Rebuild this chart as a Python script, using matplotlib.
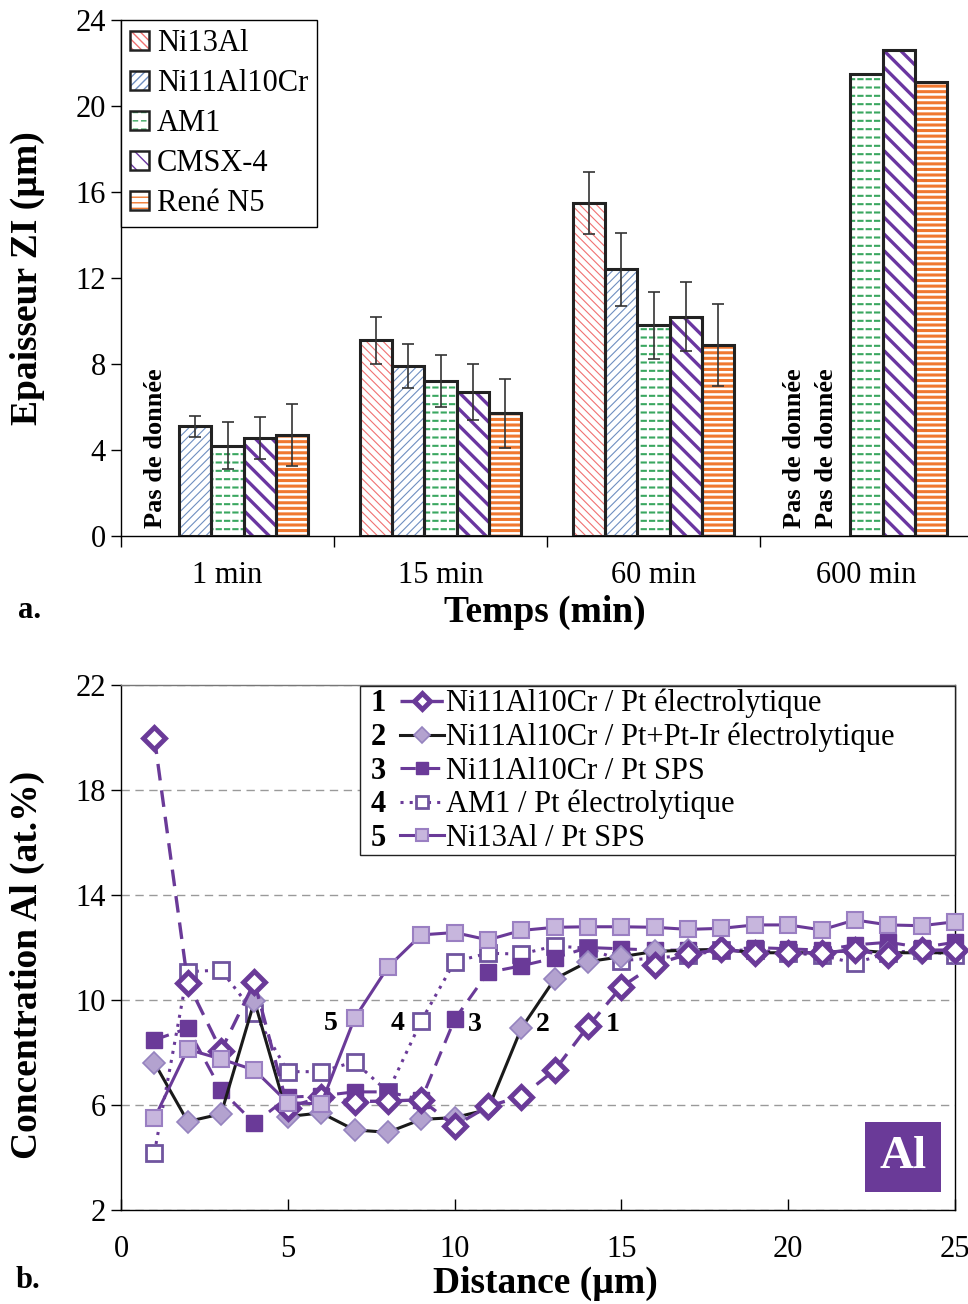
import numpy as np
import matplotlib
matplotlib.use("Agg")
import matplotlib.pyplot as plt
import matplotlib.hatch as mhatch
import matplotlib.patches as mpatches
from matplotlib.path import Path
from matplotlib.legend_handler import HandlerTuple


# ---- data: (a) thickness of interdiffusion zone ----
times = ["1 min", "15 min", "60 min", "600 min"]
alloys = ["Ni13Al", "Ni11Al10Cr", "AM1", "CMSX-4", "René N5"]
ni13al = [np.nan, 9.1, 15.5, np.nan]
ni11al10cr = [5.1, 7.9, 12.4, np.nan]
am1 = [4.2, 7.2, 9.8, 21.5]
cmsx4 = [4.55, 6.7, 10.2, 22.6]
rene_n5 = [4.7, 5.7, 8.9, 21.1]
err_ni13al = [np.nan, 1.1, 1.45, np.nan]
err_ni11al10cr = [0.48, 1.03, 1.7, np.nan]
err_am1 = [1.1, 1.2, 1.55, np.nan]
err_cmsx4 = [0.97, 1.3, 1.6, np.nan]
err_rene_n5 = [1.45, 1.6, 1.9, np.nan]
no_data = [(0, 0), (3, 0), (3, 1)]  # (time index, alloy index)

# ---- data: (b) Al concentration profiles ----
distance = np.arange(1, 26)
al_s1 = [20.0, 10.66, 8.07, 10.68, 5.9, 6.3, 6.13, 6.15, 6.2, 5.2, 5.95, 6.32, 7.33,
         9.0, 10.5, 11.35, 11.75, 11.93, 11.8, 11.8, 11.8, 11.9, 11.7, 11.9, 11.9]
al_s2 = [7.61, 5.37, 5.66, 9.96, 5.56, 5.7, 5.05, 4.96, 5.45, 5.52, 5.83, 8.92, 10.8,
         11.46, 11.65, 11.85, 11.9, 11.93, 11.8, 11.8, 11.8, 11.9, 11.8, 11.8, 11.8]
al_s3 = [8.48, 8.92, 6.57, 5.30, 6.3, 6.35, 6.5, 6.5, 6.2, 9.26, 11.05, 11.3, 11.6,
         12.0, 11.95, 11.9, 11.9, 11.9, 12.0, 11.95, 11.9, 12.1, 12.2, 12.0, 12.2]
al_s4 = [4.17, 11.08, 11.14, 9.49, 7.27, 7.27, 7.65, 6.5, 9.2, 11.46, 11.78, 11.75, 12.06,
         11.97, 11.5, 11.6, 11.7, 11.9, 11.9, 11.8, 11.7, 11.4, 11.8, 11.9, 11.7]
al_s5 = [5.49, 8.12, 7.75, 7.33, 6.09, 6.04, 9.3, 11.25, 12.48, 12.57, 12.29, 12.65, 12.77,
         12.79, 12.79, 12.77, 12.69, 12.73, 12.86, 12.86, 12.67, 13.05, 12.86, 12.83, 12.98]
series_labels = ["Ni11Al10Cr / Pt électrolytique",
                 "Ni11Al10Cr / Pt+Pt-Ir électrolytique",
                 "Ni11Al10Cr / Pt SPS",
                 "AM1 / Pt électrolytique",
                 "Ni13Al / Pt SPS"]
curve_tags = [("5", 6.3, 9.1), ("4", 8.3, 9.1), ("3", 10.6, 9.05),
              ("2", 12.65, 9.05), ("1", 14.75, 9.05)]


# '.' hatch reused as rows of short dashes (AM1 pattern)
class DashRows(mhatch.HatchPatternBase):
    def __init__(self, hatch, density):
        self.n = hatch.count(".") * density
        self.num_vertices = self.n * self.n * 2

    def set_vertices_and_codes(self, vertices, codes):
        step = 1.0 / self.n
        X, Y = np.meshgrid(np.arange(self.n) * step, np.arange(self.n) * step + step / 2)
        x0, y0 = X.ravel(), Y.ravel()
        vertices[0::2, 0] = x0
        vertices[0::2, 1] = y0
        vertices[1::2, 0] = x0 + 0.5 * step
        vertices[1::2, 1] = y0
        codes[0::2] = Path.MOVETO
        codes[1::2] = Path.LINETO


mhatch._hatch_types = [t for t in mhatch._hatch_types
                       if t is not mhatch.SmallFilledCircles] + [DashRows]

plt.rcParams["font.family"] = ["Liberation Serif", "DejaVu Serif"]

PURPLE = "#6a3a98"
LIGHT = "#b3a2cf"

styles = [
    # color, hatch, hatch lw
    ("#f07272", "\\\\\\\\", 0.8),
    ("#6f8fc0", "////", 0.8),
    ("#3aa760", "..", 1.5),
    ("#6a35a0", "\\\\", 2.4),
    ("#f07830", "---", 2.2),
]

fig = plt.figure(figsize=(9.68, 13.04), dpi=100)
W, H = 968, 1304

# ================= (a) =================
ax1 = fig.add_axes([121 / W, 1 - 536 / H, (973 - 121) / W, (536 - 20) / H])
values = [ni13al, ni11al10cr, am1, cmsx4, rene_n5]
errors = [err_ni13al, err_ni11al10cr, err_am1, err_cmsx4, err_rene_n5]
bw = 0.152
x = np.arange(len(times))
handles = []
for i, (vals, errs, (col, hat, hlw)) in enumerate(zip(values, errors, styles)):
    vals = np.array(vals)
    errs = np.array(errs)
    pos = x + (i - 2) * bw
    ok = ~np.isnan(vals)
    bars = ax1.bar(pos[ok], vals[ok], bw, color="white", edgecolor=col,
                   hatch=hat, linewidth=0, zorder=2)
    for b in bars:
        if hasattr(b, "set_hatch_linewidth"):
            b.set_hatch_linewidth(hlw)
    ax1.bar(pos[ok], vals[ok], bw, fill=False, edgecolor="#222222",
            linewidth=2.2, zorder=3)
    ek = ~np.isnan(errs)
    ax1.errorbar(pos[ek], vals[ek], yerr=errs[ek], fmt="none", ecolor="#333333",
                 elinewidth=1.2, capsize=4, capthick=1.2, zorder=4)
    hp = mpatches.Patch(facecolor="white", edgecolor=col, hatch=hat, linewidth=0)
    if hasattr(hp, "set_hatch_linewidth"):
        hp.set_hatch_linewidth(hlw)
    ep = mpatches.Patch(fill=False, edgecolor="#222222", linewidth=1.8)
    handles.append((hp, ep))

for t, a in no_data:
    ax1.text(x[t] + (a - 2) * bw - 0.035, 0.35, "Pas de donnée", rotation=90,
             ha="center", va="bottom", fontsize=19, fontweight="bold", zorder=5)

ax1.set_xlim(-0.5, 3.5)
ax1.set_ylim(0, 24)
ax1.set_yticks(range(0, 25, 4))
ax1.set_xticks(x)
ax1.set_xticklabels(times)
ax1.set_xticks(np.arange(-0.5, 4, 1), minor=True)
ax1.tick_params(axis="x", which="major", length=0, pad=18, labelsize=22)
ax1.tick_params(axis="x", which="minor", length=8, width=1, direction="out")
ax1.tick_params(axis="y", length=7, width=1, direction="out", labelsize=22, pad=4)
for s in ["top", "right"]:
    ax1.spines[s].set_visible(False)
for s in ["left", "bottom"]:
    ax1.spines[s].set_linewidth(1)

leg1 = ax1.legend(handles, alloys, handler_map={tuple: HandlerTuple(ndivide=1)},
                  loc="upper left", bbox_to_anchor=(0, 1), borderaxespad=0,
                  fontsize=22, handlelength=0.62, handleheight=0.62,
                  handletextpad=0.25, labelspacing=0.36, borderpad=0.3,
                  fancybox=False, edgecolor="black", framealpha=1)
leg1.get_frame().set_linewidth(1)

fig.text(27 / W, 1 - 278 / H, "Epaisseur ZI (µm)", rotation=90, ha="center",
         va="center", fontsize=27, fontweight="bold")
fig.text(545 / W, 1 - 612 / H, "Temps (min)", ha="center", va="center",
         fontsize=27, fontweight="bold")
fig.text(30 / W, 1 - 610 / H, "a.", ha="center", va="center", fontsize=22,
         fontweight="bold")

# ================= (b) =================
ax2 = fig.add_axes([121 / W, 1 - 1210 / H, (955 - 121) / W, (1210 - 685) / H])
ax2.plot(distance, al_s1, color=PURPLE, lw=2.4, ls=(0, (5, 3)), marker="D", ms=11,
         mfc="white", mec=PURPLE, mew=3.5, clip_on=False, zorder=6,
         label=series_labels[0])
ax2.plot(distance, al_s2, color="#1a1a1a", lw=2.2, marker="D", ms=11,
         mfc=LIGHT, mec="#9583bf", mew=1.2, clip_on=False, zorder=5,
         label=series_labels[1])
ax2.plot(distance, al_s3, color=PURPLE, lw=2.2, ls=(0, (5, 3)), marker="s", ms=11,
         mfc=PURPLE, mec=PURPLE, mew=1, clip_on=False, zorder=4,
         label=series_labels[2])
ax2.plot(distance, al_s4, color=PURPLE, lw=2.2, ls=(0, (1, 2)), marker="s", ms=11,
         mfc="white", mec="#70559f", mew=2, clip_on=False, zorder=3,
         label=series_labels[3])
ax2.plot(distance, al_s5, color=PURPLE, lw=2.2, marker="s", ms=12,
         mfc="#c7b6dd", mec="#9a7fc2", mew=1.5, clip_on=False, zorder=7,
         label=series_labels[4])

for tag, tx, ty in curve_tags:
    ax2.text(tx, ty, tag, ha="center", va="center", fontsize=20, fontweight="bold",
             zorder=8)

ax2.set_xlim(0, 25)
ax2.set_ylim(2, 22)
ax2.set_yticks(range(2, 23, 4))
ax2.set_xticks(range(0, 26, 5))
ax2.grid(True, axis="y", color="#9a9a9a", ls=(0, (6, 4)), lw=1)
ax2.tick_params(axis="x", direction="in", length=8, width=1, pad=18, labelsize=22)
ax2.tick_params(axis="y", direction="out", length=7, width=1, pad=4, labelsize=22)
for s in ax2.spines.values():
    s.set_linewidth(1)
ax2.spines["top"].set_color("#777777")

ax2.add_patch(mpatches.Rectangle(((360 - 121) / 834, (1210 - 855) / 525),
                                 (955 - 360) / 834, (855 - 686) / 525,
                                 transform=ax2.transAxes, fill=True, facecolor="white",
                                 edgecolor="#222222", lw=1, zorder=9, clip_on=False))
leg2 = ax2.legend(loc="upper left", bbox_to_anchor=((400 - 121) / 834, (1210 - 689) / 525),
                  borderaxespad=0, borderpad=0, frameon=False, fontsize=22,
                  handlelength=1.45, handletextpad=0.05, labelspacing=0.14,
                  markerscale=0.75)
leg2.set_zorder(10)

ax2.text(0.9375, 0.101, "Al", transform=ax2.transAxes, ha="center", va="center",
         fontsize=34, fontweight="bold", color="white", zorder=10,
         bbox=dict(boxstyle="square,pad=0.3", facecolor=PURPLE, edgecolor="none"))

fig.text(27 / W, 1 - 965 / H, "Concentration Al (at.%)", rotation=90, ha="center",
         va="center", fontsize=27, fontweight="bold")
fig.text(545 / W, 1 - 1283 / H, "Distance (µm)", ha="center", va="center",
         fontsize=27, fontweight="bold")
fig.text(28 / W, 1 - 1281 / H, "b.", ha="center", va="center", fontsize=22,
         fontweight="bold")

# legend numbers, placed next to each legend row
fig.canvas.draw()
for k, t in enumerate(leg2.get_texts()):
    bb = t.get_window_extent()
    fig.text(378 / W, (bb.y0 + bb.y1) / 2 / H, str(k + 1), ha="center",
             va="center", fontsize=22, fontweight="bold", zorder=11)

fig.savefig("out.png", dpi=100)
